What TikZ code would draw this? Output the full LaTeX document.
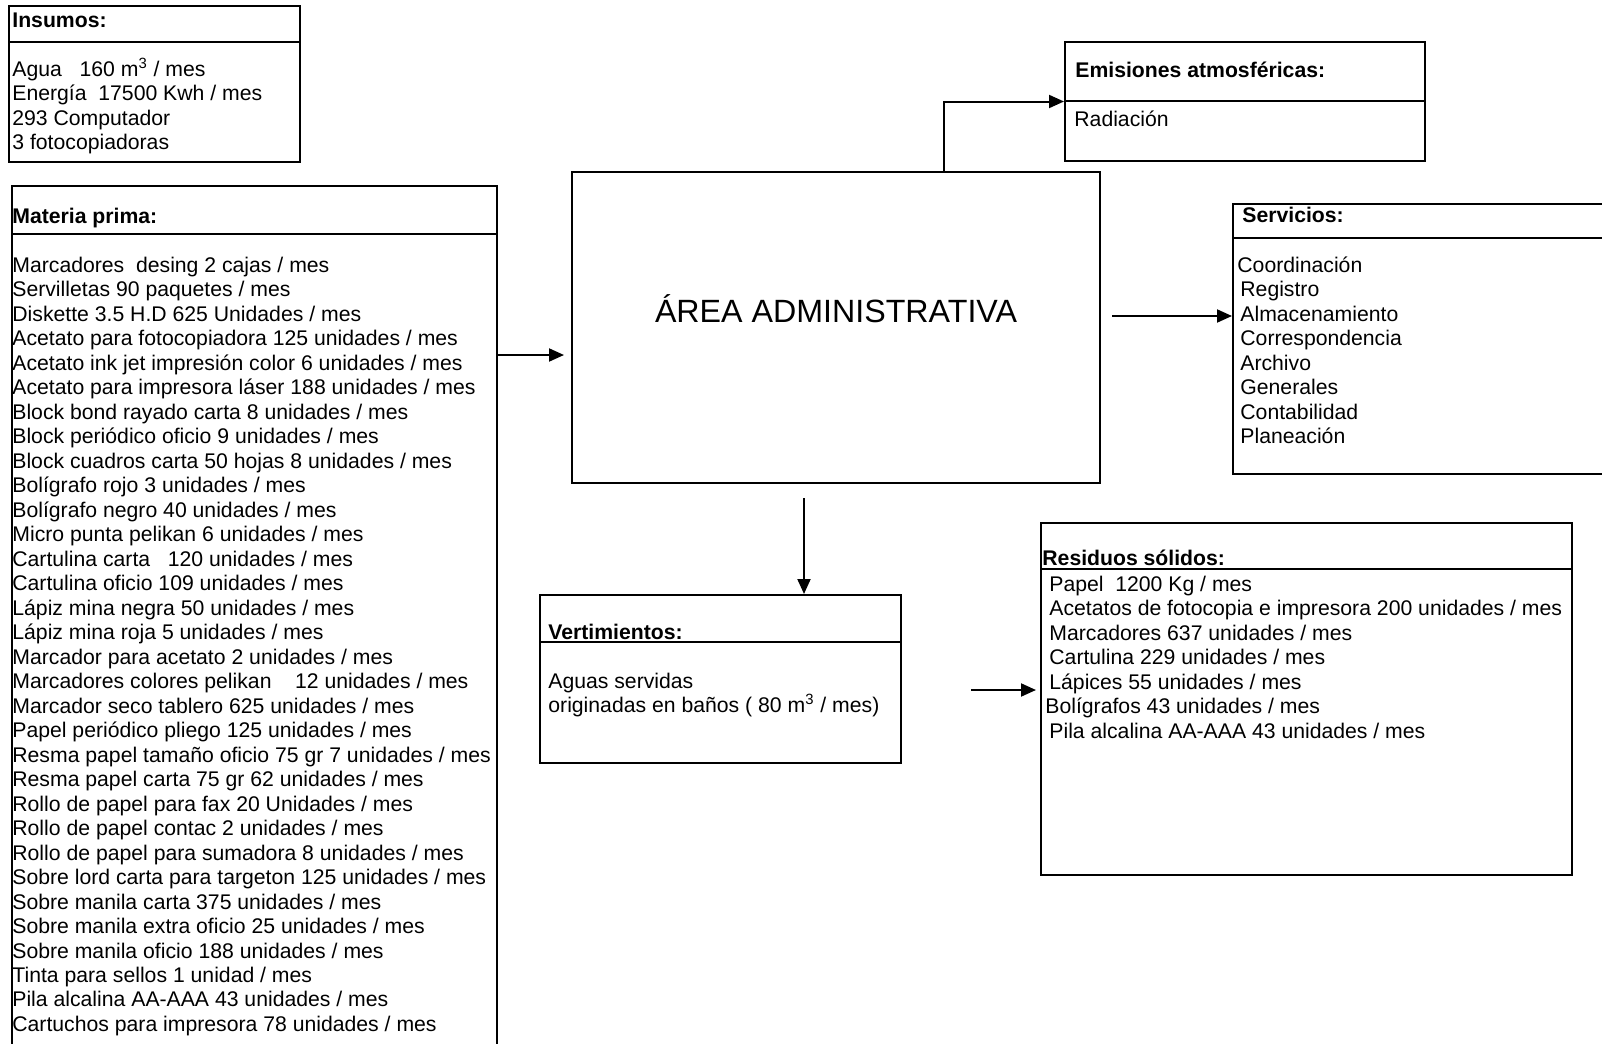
\documentclass[tikz,border=0pt]{standalone}
\usepackage{fontspec}
\setmainfont{Liberation Sans}
\usetikzlibrary{arrows.meta}
\tikzset{
  box/.style={draw, line width=1pt, anchor=north west, inner sep=0pt},
  txt/.style={anchor=base west, inner sep=0pt, font=\fontsize{10.6}{12.25}\selectfont},
  ttl/.style={anchor=base west, inner sep=0pt, font=\fontsize{10.6}{12.25}\selectfont\bfseries},
  arr/.style={line width=1pt, -{Triangle[length=7.5pt,width=6.5pt]}},
  divl/.style={line width=1pt}
}
\newcommand\mthree{m\smash{\textsuperscript{3}}}
\begin{document}
\begin{tikzpicture}[x=0.5pt,y=-0.5pt]
\useasboundingbox (0,0) rectangle (1602,1044);
% boxes
\node[box, minimum width=145.5pt, minimum height=78pt] (ins) at (8,5) {};
\node[box, minimum width=242.5pt, minimum height=433pt] (mat) at (11,185) {};
\node[box, minimum width=264pt, minimum height=155.5pt] (area) at (571,171) {};
\node[box, minimum width=180pt, minimum height=59.5pt] (emi) at (1064,41) {};
\node[box, minimum width=190pt, minimum height=135pt] (serv) at (1232,203) {};
\node[box, minimum width=180.5pt, minimum height=84pt] (vert) at (539,594) {};
\node[box, minimum width=265.5pt, minimum height=176pt] (res) at (1040,522) {};
% dividers
\draw[divl] (8,42) -- (299,42);
\draw[divl] (11,234) -- (496,234);
\draw[divl] (1064,101) -- (1424,101);
\draw[divl] (1232,238) -- (1612,238);
\draw[divl] (539,642) -- (900,642);
\draw[divl] (1040,569) -- (1571,569);
% texts
\node[ttl] (insT) at (12,27) {Insumos:};
\node[txt] (insL) at (12,76) {\begin{tabular}[t]{@{}l@{}}
Agua\ \ \ 160 \mthree{} / mes\\
Energía\ \ 17500 Kwh / mes\\
293 Computador\\
3 fotocopiadoras
\end{tabular}};
\node[ttl] (matT) at (12,223) {Materia prima:};
\node[txt] (matL) at (12,272) {\begin{tabular}[t]{@{}l@{}}
Marcadores\ \ desing 2 cajas / mes\\
Servilletas 90 paquetes / mes\\
Diskette 3.5 H.D 625 Unidades / mes\\
Acetato para fotocopiadora 125 unidades / mes\\
Acetato ink jet impresión color 6 unidades / mes\\
Acetato para impresora láser 188 unidades / mes\\
Block bond rayado carta 8 unidades / mes\\
Block periódico oficio 9 unidades / mes\\
Block cuadros carta 50 hojas 8 unidades / mes\\
Bolígrafo rojo 3 unidades / mes\\
Bolígrafo negro 40 unidades / mes\\
Micro punta pelikan 6 unidades / mes\\
Cartulina carta\ \ \ 120 unidades / mes\\
Cartulina oficio 109 unidades / mes\\
Lápiz mina negra 50 unidades / mes\\
Lápiz mina roja 5 unidades / mes\\
Marcador para acetato 2 unidades / mes\\
Marcadores colores pelikan\ \ \ \ 12 unidades / mes\\
Marcador seco tablero 625 unidades / mes\\
Papel periódico pliego 125 unidades / mes\\
Resma papel tamaño oficio 75 gr 7 unidades / mes\\
Resma papel carta 75 gr 62 unidades / mes\\
Rollo de papel para fax 20 Unidades / mes\\
Rollo de papel contac 2 unidades / mes\\
Rollo de papel para sumadora 8 unidades / mes\\
Sobre lord carta para targeton 125 unidades / mes\\
Sobre manila carta 375 unidades / mes\\
Sobre manila extra oficio 25 unidades / mes\\
Sobre manila oficio 188 unidades / mes\\
Tinta para sellos 1 unidad / mes\\
Pila alcalina AA-AAA 43 unidades / mes\\
Cartuchos para impresora 78 unidades / mes
\end{tabular}};
\node[anchor=base, inner sep=0pt, font=\fontsize{16.1}{19}\selectfont] (areaT) at (836,322) {ÁREA ADMINISTRATIVA};
\node[ttl] (emiT) at (1075,77) {Emisiones atmosféricas:};
\node[txt] (emiL) at (1074,126) {Radiación};
\node[ttl] (servT) at (1242,222) {Servicios:};
\node[txt] (servL) at (1240,272) {\begin{tabular}[t]{@{}l@{}}
\hspace*{-1.5pt}Coordinación\\
Registro\\
Almacenamiento\\
Correspondencia\\
Archivo\\
Generales\\
Contabilidad\\
Planeación
\end{tabular}};
\node[ttl] (vertT) at (548,639) {\underline{Vertimientos:}};
\node[txt] (vertL) at (548,688) {\begin{tabular}[t]{@{}l@{}}
Aguas servidas\\
originadas en baños ( 80 \mthree{} / mes)
\end{tabular}};
\node[ttl] (resT) at (1042,565) {\underline{Residuos sólidos:}};
\node[txt] (resL) at (1049,591) {\begin{tabular}[t]{@{}l@{}}
Papel\ \ 1200 Kg / mes\\
Acetatos de fotocopia e impresora 200 unidades / mes\\
Marcadores 637 unidades / mes\\
Cartulina 229 unidades / mes\\
Lápices 55 unidades / mes\\
\hspace*{-2pt}Bolígrafos 43 unidades / mes\\
Pila alcalina AA-AAA 43 unidades / mes
\end{tabular}};
% connectors
\coordinate (c1) at (0,355);
\draw[arr, shorten >=3.5pt] (mat.east |- c1) -- (area.west |- c1);
\coordinate (c2) at (944,0);
\draw[arr] (area.north -| c2) |- (emi.west);
\coordinate (c3) at (1112,316);
\draw[arr] (c3) -- (serv.west |- c3);
\coordinate (c4) at (804,498);
\draw[arr] (c4) -- (vert.north -| c4);
\coordinate (c5) at (971,690);
\draw[arr, shorten >=2pt] (c5) -- (res.west |- c5);
\end{tikzpicture}
\end{document}
